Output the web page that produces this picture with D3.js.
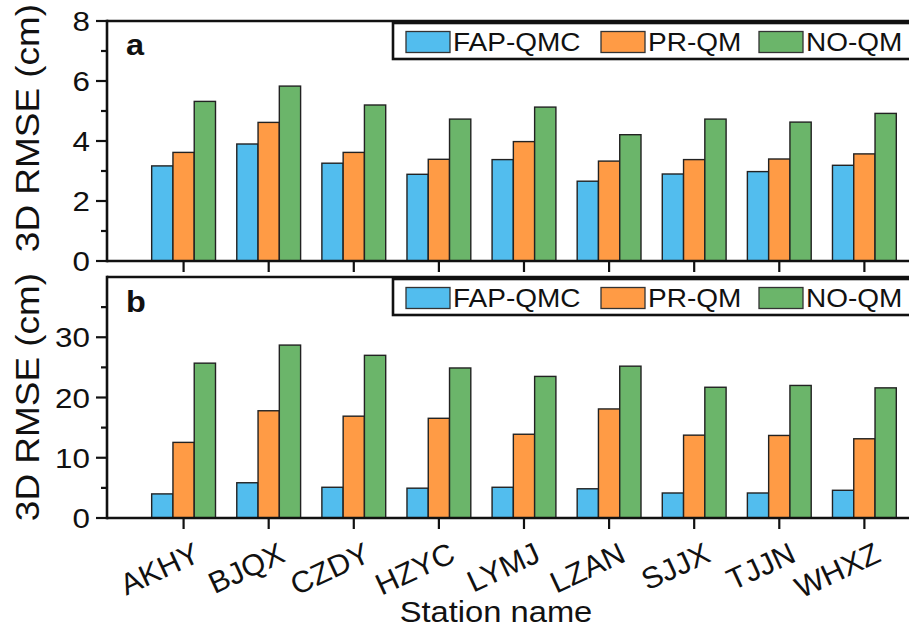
<!DOCTYPE html>
<html>
<head>
<meta charset="utf-8">
<script src="https://cdn.jsdelivr.net/npm/d3@7"></script>
<style>
  html, body { margin: 0; padding: 0; background: #fff; }
  svg { display: block; }
  text { font-family: "Liberation Sans", Arial, sans-serif; fill: #111; }
</style>
</head>
<body>
<svg id="chart" width="909" height="629"></svg>
<script>
// Stations and 3D RMSE values (cm)
const stations = ["AKHY", "BJQX", "CZDY", "HZYC", "LYMJ", "LZAN", "SJJX", "TJJN", "WHXZ"];
const seriesNames = ["FAP-QMC", "PR-QM", "NO-QM"];

// Panel a
const aFAP = [3.17, 3.90, 3.26, 2.89, 3.38, 2.66, 2.90, 2.98, 3.19];
const aPR  = [3.62, 4.62, 3.62, 3.39, 3.98, 3.33, 3.38, 3.40, 3.57];
const aNO  = [5.32, 5.83, 5.20, 4.73, 5.13, 4.21, 4.73, 4.63, 4.92];

// Panel b
const bFAP = [4.0, 5.85, 5.1, 4.95, 5.1, 4.85, 4.15, 4.15, 4.6];
const bPR  = [12.55, 17.8, 16.9, 16.55, 13.9, 18.1, 13.75, 13.7, 13.15];
const bNO  = [25.7, 28.7, 27.0, 24.9, 23.5, 25.2, 21.7, 22.0, 21.6];

const aMajorTicks = [0, 2, 4, 6, 8];
const aMinorTicks = [1, 3, 5, 7];
const bMajorTicks = [0, 10, 20, 30];
const bMinorTicks = [5, 15, 25, 35];

const colors = ["#52BDEE", "#FF9B45", "#6BB56A"];
const ink = "#111";
const stretch = 1.12;   // glyphs are set slightly wide

const svg = d3.select("#chart");

// Category positions: stations sit at 1..9 on a linear axis
const x = d3.scaleLinear().domain([0.1, 10.1]).range([107, 958]);
const barW = x(0.25) - x(0);

function label(g, px, py, rot, str, size, anchor, weight, sx) {
  return g.append("text")
    .attr("transform", `translate(${px},${py}) rotate(${rot}) scale(${sx || stretch},1)`)
    .attr("text-anchor", anchor || "start")
    .attr("font-size", size)
    .attr("font-weight", weight || "normal")
    .text(str);
}

function panel(cfg) {
  const g = svg.append("g");
  const y = d3.scaleLinear().domain(cfg.domain).range([cfg.bottom, cfg.top]);
  const series = [cfg.fap, cfg.pr, cfg.no];

  // bars
  series.forEach((vals, s) => {
    g.append("g").selectAll("rect")
      .data(vals)
      .join("rect")
      .attr("x", (d, i) => x(i + 1 + (s - 1) * 0.25) - barW / 2)
      .attr("y", d => y(d))
      .attr("width", barW)
      .attr("height", d => y(0) - y(d))
      .attr("fill", colors[s])
      .attr("stroke", "#222")
      .attr("stroke-width", 1.4);
  });

  // frame: left, top and bottom
  g.append("line").attr("x1", x(0.1)).attr("x2", 960)
    .attr("y1", y(cfg.domain[1])).attr("y2", y(cfg.domain[1]))
    .attr("stroke", ink).attr("stroke-width", 2.6);
  g.append("line").attr("x1", x(0.1)).attr("x2", 960)
    .attr("y1", y(0)).attr("y2", y(0))
    .attr("stroke", ink).attr("stroke-width", 2.6);
  g.append("line").attr("x1", x(0.1)).attr("x2", x(0.1))
    .attr("y1", y(cfg.domain[1]) - 1.3).attr("y2", y(0) + 1.3)
    .attr("stroke", ink).attr("stroke-width", 2.6);

  // y ticks
  g.selectAll(".maj").data(cfg.major).join("line")
    .attr("x1", x(0.1) - 11).attr("x2", x(0.1))
    .attr("y1", d => y(d)).attr("y2", d => y(d))
    .attr("stroke", ink).attr("stroke-width", 2.2);
  g.selectAll(".min").data(cfg.minor).join("line")
    .attr("x1", x(0.1) - 6).attr("x2", x(0.1))
    .attr("y1", d => y(d)).attr("y2", d => y(d))
    .attr("stroke", ink).attr("stroke-width", 2.2);
  cfg.labels.forEach(d => {
    label(g, 90, y(d) + 10, 0, d3.format("d")(d), 28, "end");
  });

  // x ticks (outward)
  g.selectAll(".xt").data(stations).join("line")
    .attr("x1", (d, i) => x(i + 1)).attr("x2", (d, i) => x(i + 1))
    .attr("y1", y(0)).attr("y2", y(0) + 11)
    .attr("stroke", ink).attr("stroke-width", 2.2);

  // axis title
  label(g, 39, cfg.titleY, -90, "3D RMSE (cm)", 33, "middle");

  // panel letter
  label(g, 126, cfg.letterY, 0, cfg.letter, 29, "start", "bold");

  // legend
  const lg = g.append("g");
  lg.append("rect")
    .attr("x", 393).attr("y", cfg.legendY)
    .attr("width", 560).attr("height", 36)
    .attr("fill", "#fff").attr("stroke", ink).attr("stroke-width", 2.6);
  const swatchX = [406, 601, 759];
  seriesNames.forEach((name, s) => {
    lg.append("rect")
      .attr("x", swatchX[s]).attr("y", cfg.legendY + 8.5)
      .attr("width", 44).attr("height", 21)
      .attr("fill", colors[s]).attr("stroke", "#333").attr("stroke-width", 1.3);
    label(lg, swatchX[s] + 47, cfg.legendY + 28, 0, name, 25, "start");
  });

  return y;
}

panel({
  domain: [0, 8], top: 21, bottom: 261,
  fap: aFAP, pr: aPR, no: aNO,
  major: aMajorTicks, minor: aMinorTicks, labels: aMajorTicks,
  titleY: 128, letter: "a", letterY: 55, legendY: 23
});

panel({
  domain: [0, 40], top: 277, bottom: 518,
  fap: bFAP, pr: bPR, no: bNO,
  major: bMajorTicks, minor: bMinorTicks, labels: bMajorTicks,
  titleY: 397, letter: "b", letterY: 312, legendY: 279
});

// rotated station labels under panel b
const xl = svg.append("g");
stations.forEach((s, i) => {
  xl.append("text")
    .attr("transform", `translate(${x(i + 1) + 9},${541}) rotate(-25) scale(1.02,1)`)
    .attr("text-anchor", "end")
    .attr("dy", "0.72em")
    .attr("font-size", 30)
    .text(s);
});

// x-axis title
label(svg, 496, 622, 0, "Station name", 30, "middle", "normal", 1.09);
</script>
</body>
</html>
